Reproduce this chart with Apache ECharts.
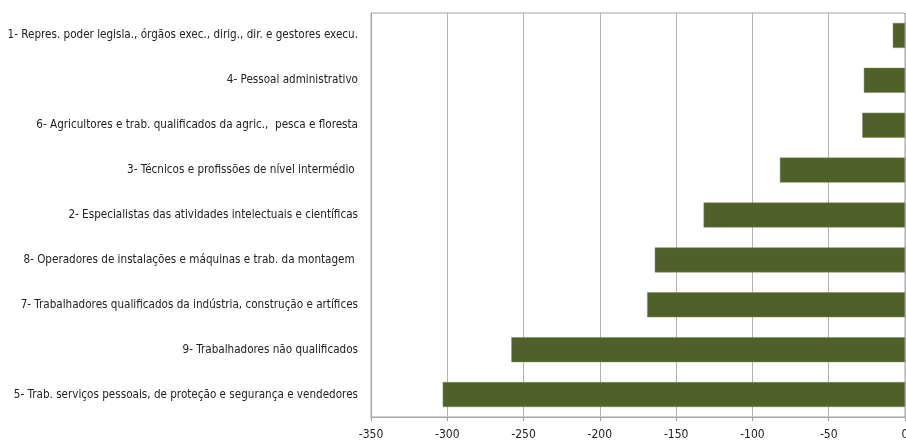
<!DOCTYPE html>
<html>

<head>
    <meta charset="utf-8">
    <title>Profissões</title>
    <script src="https://cdn.jsdelivr.net/npm/echarts@6/dist/echarts.min.js"></script>
    <style>
        body { margin: 0; background: #fff; }
    </style>
</head>

<body>
    <div id="chart" style="width: 906px; height: 441px;"></div>

    <script type="text/javascript">
        // categories, top to bottom
        var categories = [
            '1- Repres. poder legisla., órgãos exec., dirig., dir. e gestores execu.',
            '4- Pessoal administrativo',
            '6- Agricultores e trab. qualificados da agric.,  pesca e floresta',
            '3- Técnicos e profissões de nível intermédio ',
            '2- Especialistas das atividades intelectuais e científicas',
            '8- Operadores de instalações e máquinas e trab. da montagem ',
            '7- Trabalhadores qualificados da indústria, construção e artífices',
            '9- Trabalhadores não qualificados',
            '5- Trab. serviços pessoais, de proteção e segurança e vendedores'
        ];
        var values = [-8, -27, -28, -82, -132, -164, -169, -258, -303];

        var axisFont = '"Liberation Sans Narrow", "DejaVu Sans Condensed", sans-serif';

        var myChart = echarts.init(document.getElementById('chart'), null, { renderer: 'canvas' });
        myChart.setOption({
            animation: false,
            grid: {
                left: 371, right: 1, top: 13, bottom: 24,
                outerBoundsMode: 'none',
                containLabel: false,
                show: true, borderColor: '#a6a6a6', borderWidth: 1
            },
            xAxis: {
                type: 'value',
                min: -350, max: 0, interval: 50,
                axisLine: { show: true, lineStyle: { color: '#a6a6a6' } },
                axisTick: { show: true, length: 4, lineStyle: { color: '#a6a6a6' } },
                splitLine: { show: true, lineStyle: { color: '#b4b4b4', width: 1 } },
                axisLabel: { color: '#222', fontSize: 12, fontFamily: axisFont, margin: 12 }
            },
            yAxis: {
                type: 'category',
                inverse: true,
                data: categories,
                position: 'left',
                axisLine: { onZero: false, show: true, lineStyle: { color: '#a6a6a6' } },
                axisTick: { show: false },
                axisLabel: { color: '#222', fontSize: 11.6, fontFamily: axisFont, margin: 13 }
            },
            series: [{
                type: 'bar',
                data: values,
                barWidth: 25,
                itemStyle: { color: '#4f6128', borderColor: '#7a8a5a', borderWidth: 0.5 }
            }]
        });
    </script>
</body>

</html>
